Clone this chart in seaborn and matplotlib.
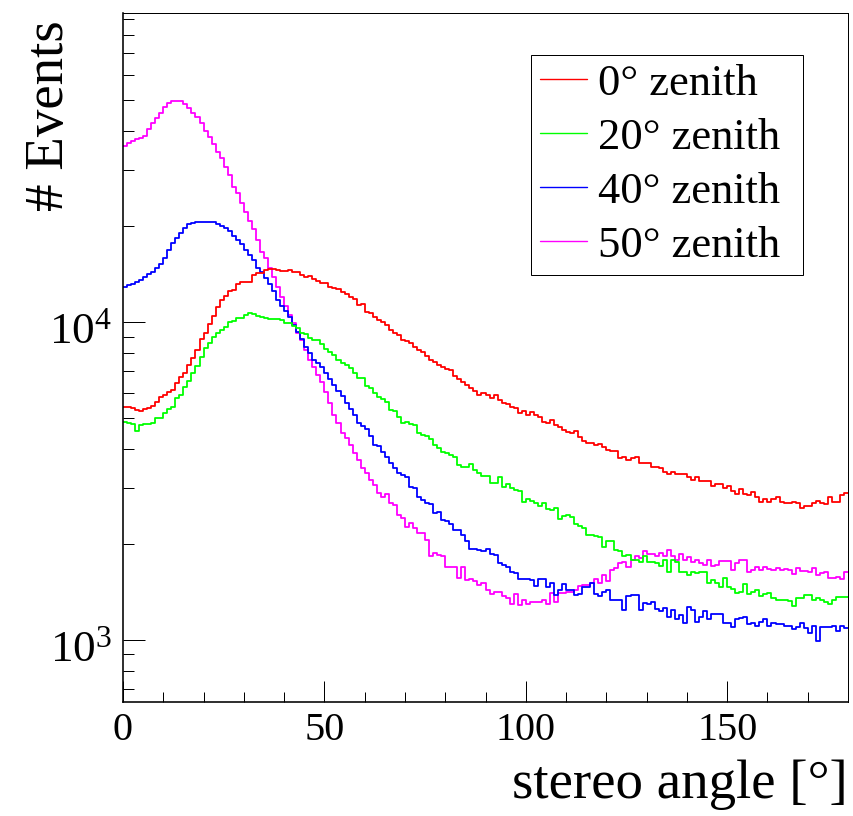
import numpy as np
import pandas as pd
import matplotlib
matplotlib.use("Agg")
import matplotlib.pyplot as plt
import matplotlib.transforms as mtransforms
from matplotlib.lines import Line2D
from matplotlib.ticker import FixedLocator, LogLocator, LogFormatterMathtext, NullFormatter
import seaborn as sns

# 1-degree bins of the stereo angle, 0..180 deg
angle_min, angle_max, bin_width = 0, 180, 1

# events per bin for each zenith angle
events_0deg = [
    5390, 5390, 5380, 5290, 5260, 5310, 5380, 5460, 5620, 5790,
    5900, 6010, 6120, 6430, 6720, 6910, 7300, 7730, 8190, 8870,
    9200, 9820, 10410, 11110, 11690, 12070, 12470, 12610, 13160, 13360,
    13380, 13380, 14050, 14210, 14290, 14570, 14700, 14640, 14540, 14500,
    14470, 14600, 14390, 14390, 14020, 13880, 13950, 13680, 13480, 13230,
    13290, 12910, 12760, 12670, 12460, 12250, 12010, 11790, 11310, 11400,
    10780, 10650, 10350, 10150, 10030, 9790, 9440, 9210, 9100, 8780,
    8730, 8610, 8340, 8170, 8070, 7820, 7590, 7500, 7320, 7200,
    7100, 7060, 6760, 6600, 6490, 6340, 6190, 6080, 5900, 5970,
    5900, 5760, 5900, 5690, 5570, 5520, 5390, 5350, 5190, 5260,
    5100, 5220, 5100, 5040, 4860, 4820, 4920, 4740, 4670, 4580,
    4520, 4490, 4540, 4340, 4230, 4160, 4170, 4100, 4130, 4040,
    3960, 3940, 3940, 3730, 3770, 3680, 3730, 3750, 3610, 3610,
    3610, 3490, 3510, 3470, 3380, 3330, 3380, 3330, 3330, 3330,
    3250, 3190, 3250, 3170, 3150, 3150, 3050, 3090, 3090, 3000,
    3050, 2930, 2880, 2980, 2880, 2860, 2910, 2810, 2720, 2770,
    2720, 2770, 2820, 2720, 2700, 2690, 2720, 2690, 2600, 2630,
    2640, 2700, 2740, 2690, 2680, 2820, 2720, 2720, 2860, 2890,
]

events_20deg = [
    4860, 4800, 4780, 4550, 4740, 4780, 4780, 4800, 4980, 4980,
    5160, 5310, 5390, 5760, 5900, 6260, 6540, 6930, 7270, 7780,
    8270, 8570, 8950, 9210, 9440, 9630, 10030, 10100, 10270, 10270,
    10520, 10650, 10600, 10470, 10350, 10300, 10250, 10210, 10190, 10150,
    9900, 9950, 9720, 9560, 9250, 9170, 8890, 8780, 8780, 8530,
    8200, 8070, 7880, 7590, 7410, 7320, 7150, 6900, 6650, 6650,
    6290, 6190, 5990, 5800, 5710, 5620, 5290, 5260, 5020, 4820,
    4860, 4780, 4730, 4470, 4410, 4380, 4280, 4100, 4010, 3910,
    3860, 3820, 3750, 3550, 3510, 3510, 3580, 3420, 3360, 3280,
    3280, 3110, 3110, 3250, 3030, 3090, 3000, 2960, 2930, 2720,
    2770, 2740, 2700, 2640, 2690, 2580, 2560, 2600, 2400, 2450,
    2470, 2440, 2320, 2280, 2250, 2140, 2140, 2120, 2100, 1960,
    2050, 2050, 1920, 1900, 1830, 1850, 1780, 1780, 1760, 1830,
    1760, 1760, 1750, 1710, 1790, 1630, 1790, 1760, 1630, 1640,
    1600, 1630, 1620, 1630, 1630, 1510, 1540, 1510, 1470, 1570,
    1470, 1450, 1400, 1420, 1500, 1390, 1420, 1440, 1370, 1390,
    1400, 1350, 1340, 1335, 1340, 1330, 1280, 1350, 1350, 1380,
    1380, 1340, 1350, 1340, 1320, 1300, 1340, 1360, 1360, 1360,
]

events_40deg = [
    12900, 13100, 13200, 13400, 13600, 13900, 14200, 14400, 14800, 15200,
    15900, 16800, 17700, 18400, 19100, 19800, 20300, 20500, 20600, 20700,
    20600, 20700, 20700, 20300, 20100, 19800, 19300, 18600, 18100, 17600,
    16800, 16200, 15700, 14800, 14400, 13800, 13200, 12500, 11730, 11200,
    10800, 10400, 9780, 9320, 8820, 8360, 7970, 7590, 7410, 7240,
    6900, 6600, 6340, 6080, 5850, 5570, 5340, 5100, 4820, 4710,
    4600, 4380, 4100, 4080, 3910, 3770, 3610, 3470, 3340, 3300,
    3250, 3030, 3000, 2820, 2760, 2690, 2670, 2500, 2530, 2380,
    2360, 2320, 2220, 2210, 2140, 2040, 1930, 1930, 1920, 1910,
    1930, 1870, 1850, 1750, 1720, 1700, 1640, 1620, 1560, 1550,
    1550, 1540, 1480, 1560, 1560, 1470, 1510, 1380, 1440, 1500,
    1440, 1440, 1380, 1390, 1470, 1470, 1510, 1390, 1370, 1410,
    1440, 1340, 1340, 1340, 1240, 1370, 1380, 1380, 1240, 1310,
    1300, 1320, 1250, 1230, 1260, 1180, 1240, 1160, 1200, 1130,
    1270, 1240, 1140, 1180, 1230, 1160, 1210, 1210, 1210, 1130,
    1130, 1100, 1160, 1170, 1180, 1120, 1130, 1110, 1140, 1160,
    1110, 1130, 1120, 1120, 1110, 1110, 1080, 1100, 1130, 1090,
    1050, 1110, 995, 1100, 1100, 1100, 1110, 1070, 1110, 1090,
]

events_50deg = [
    35800, 36600, 37100, 37500, 37900, 38500, 40500, 42200, 43800, 45400,
    47300, 48800, 49500, 49600, 49600, 48500, 47100, 45500, 44100, 42200,
    40000, 38300, 36300, 34300, 32800, 30700, 29000, 26600, 25500, 23700,
    22200, 20800, 19600, 18110, 16600, 15900, 14800, 13900, 12900, 12000,
    11200, 10500, 9930, 9240, 8780, 8170, 7590, 7240, 6810, 6490,
    6040, 5550, 5100, 4800, 4470, 4310, 4100, 3860, 3680, 3470,
    3360, 3190, 3070, 2890, 2820, 2880, 2690, 2660, 2470, 2410,
    2270, 2330, 2250, 2170, 2170, 2060, 1830, 1880, 1850, 1830,
    1700, 1700, 1690, 1570, 1700, 1540, 1550, 1530, 1490, 1510,
    1440, 1390, 1410, 1410, 1370, 1350, 1300, 1390, 1290, 1340,
    1300, 1320, 1320, 1320, 1340, 1300, 1400, 1320, 1400, 1400,
    1420, 1420, 1440, 1480, 1490, 1490, 1510, 1560, 1510, 1600,
    1530, 1660, 1680, 1740, 1760, 1700, 1790, 1830, 1810, 1900,
    1870, 1860, 1840, 1880, 1840, 1920, 1830, 1790, 1860, 1790,
    1820, 1760, 1780, 1740, 1720, 1790, 1710, 1720, 1770, 1770,
    1770, 1660, 1750, 1780, 1790, 1640, 1660, 1700, 1660, 1700,
    1670, 1660, 1680, 1660, 1670, 1660, 1610, 1680, 1650, 1650,
    1640, 1680, 1600, 1620, 1640, 1570, 1570, 1580, 1560, 1630,
]

zenith_labels = ["0\u00b0 zenith", "20\u00b0 zenith", "40\u00b0 zenith", "50\u00b0 zenith"]
line_colors = ["#ff0000", "#00ff00", "#0000ff", "#ff00ff"]
x_tick_values = [0, 50, 100, 150]
x_tick_labels = ["0", "50", "100", "150"]
y_tick_values = [1e3, 1e4]

series = [events_0deg, events_20deg, events_40deg, events_50deg]
centers = np.arange(angle_min, angle_max, bin_width) + bin_width / 2
frames = [
    pd.DataFrame({"angle": centers, "events": np.asarray(vals, dtype=float), "zenith": lab})
    for vals, lab in zip(series, zenith_labels)
]
df = pd.concat(frames, ignore_index=True)

sns.set_theme(style="ticks")
plt.rcParams["font.family"] = ["Liberation Serif", "DejaVu Serif"]
plt.rcParams["mathtext.fontset"] = "custom"
plt.rcParams["mathtext.rm"] = "Liberation Serif"
plt.rcParams["mathtext.it"] = "Liberation Serif:italic"
plt.rcParams["mathtext.bf"] = "Liberation Serif:bold"
for key in ["text.color", "axes.labelcolor", "xtick.color", "ytick.color",
            "xtick.labelcolor", "ytick.labelcolor", "axes.edgecolor"]:
    plt.rcParams[key] = "black"

W, H = 854, 816
fig = plt.figure(figsize=(W / 100, H / 100), dpi=100)
fig.patch.set_facecolor("white")
ax_l, ax_r, ax_t, ax_b = 123, 848, 13, 702
ax = fig.add_axes([ax_l / W, 1 - ax_b / H, (ax_r - ax_l) / W, (ax_b - ax_t) / H])
ax.set_facecolor("white")

sns.histplot(
    data=df, x="angle", weights="events", hue="zenith",
    hue_order=zenith_labels, palette=dict(zip(zenith_labels, line_colors)),
    binwidth=bin_width, binrange=(angle_min, angle_max),
    element="step", fill=False, linewidth=1.3,
    legend=False, ax=ax,
)

ax.set_yscale("log")
ax.set_xlim(angle_min, angle_max)
ax.set_ylim(638, 93700)

px = 72 / 100  # points per pixel
# x axis ticks
ax.xaxis.set_major_locator(FixedLocator(x_tick_values))
ax.set_xticklabels(x_tick_labels)
ax.xaxis.set_minor_locator(FixedLocator(np.arange(10, 180, 10)))
# y axis ticks
ax.yaxis.set_major_locator(FixedLocator(y_tick_values))
ax.yaxis.set_major_formatter(LogFormatterMathtext())
ax.yaxis.set_minor_locator(LogLocator(base=10, subs=np.arange(2, 10)))
ax.yaxis.set_minor_formatter(NullFormatter())

ax.tick_params(axis="x", which="major", direction="in", length=21 * px, width=1 * px,
               colors="black", labelsize=29, pad=10 * px, top=False)
ax.tick_params(axis="x", which="minor", direction="in", length=10 * px, width=1 * px,
               colors="black", top=False)
ax.tick_params(axis="y", which="major", direction="in", length=22 * px, width=1 * px,
               colors="black", labelsize=32.5, pad=11 * px, right=False)
ax.tick_params(axis="y", which="minor", direction="in", length=10.5 * px, width=1 * px,
               colors="black", right=False)

for side in ["left", "bottom"]:
    ax.spines[side].set_linewidth(1.6 * px)
    ax.spines[side].set_color("black")
for side in ["top", "right"]:
    ax.spines[side].set_visible(True)
    ax.spines[side].set_linewidth(1.0 * px)
    ax.spines[side].set_color("black")
ax.grid(False)

ax.set_xlabel("stereo angle [\u00b0]", fontsize=39.5, loc="right", color="black")
ax.xaxis.set_label_coords(1.0, (ax_b - 760) / (ax_b - ax_t))
ax.set_ylabel("# Events", fontsize=39.5, loc="top", color="black")
ax.yaxis.set_label_coords((75 - ax_l) / (ax_r - ax_l), 1 - (20 - ax_t) / (ax_b - ax_t))

handles = [Line2D([], [], color=c, linewidth=1.0) for c in line_colors]
leg = ax.legend(
    handles, zenith_labels, loc="upper left",
    bbox_to_anchor=((531 - ax_l) / (ax_r - ax_l), (ax_b - 55) / (ax_b - ax_t),
                    (803 - 531) / (ax_r - ax_l), 0.0),
    mode="expand", borderaxespad=0, fontsize=32, frameon=True, fancybox=False,
    shadow=False, framealpha=1, edgecolor="black", facecolor="white",
    handlelength=1.05, handletextpad=0.25, labelspacing=0.31, borderpad=0.2,
)
leg.get_frame().set_linewidth(1.0 * px)
for t in leg.get_texts():
    t.set_color("black")

# power-of-ten labels sit slightly below their ticks
fig.canvas.draw()
shift_down = mtransforms.ScaledTranslation(0, -6 / 100, fig.dpi_scale_trans)
for tick in ax.yaxis.get_major_ticks():
    tick.label1.set_transform(tick.label1.get_transform() + shift_down)

fig.savefig("out.png", dpi=100, facecolor="white")
